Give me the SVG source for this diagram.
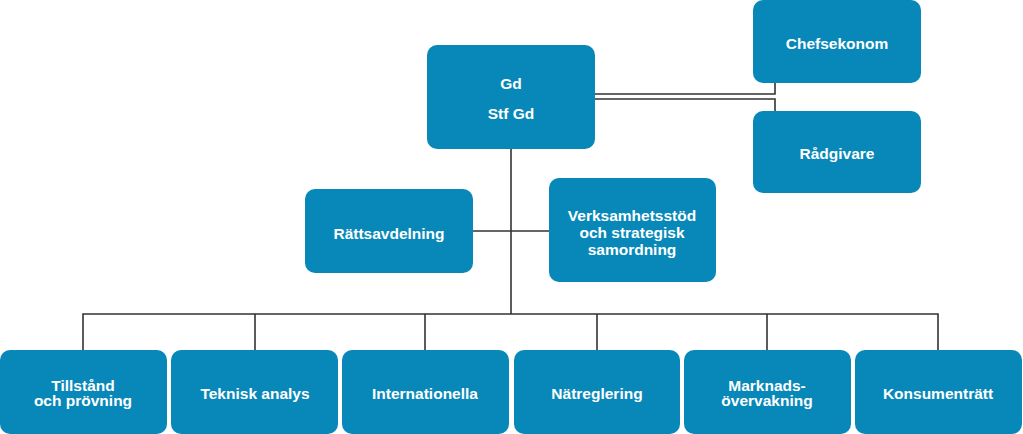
<svg xmlns="http://www.w3.org/2000/svg" width="1023" height="434" viewBox="0 0 1023 434">
<style>
.box{fill:#0888B8}
.t{fill:#fff;font-family:"Liberation Sans",Arial,sans-serif;font-weight:bold;font-size:15.5px;text-anchor:middle}
.c{fill:none;stroke:#333;stroke-width:1.6}
</style>
<rect width="1023" height="434" fill="#fff"/>
<g id="connectors">
<path class="c" d="M595 94H775V83"/>
<path class="c" d="M595 99H775V111"/>
<path class="c" d="M511 149V314"/>
<path class="c" d="M473 231H549"/>
<path class="c" d="M83 350V314H938V350"/>
<path class="c" d="M255 314V350M425 314V350M597 314V350M767 314V350"/>
</g>
<g id="gd"><rect class="box" x="427" y="45" width="168" height="104" rx="10"/><text class="t" x="511" y="88.5">Gd</text><text class="t" x="511" y="118.5">Stf Gd</text></g>
<g id="chefsekonom"><rect class="box" x="753" y="0" width="168" height="83" rx="10"/><text class="t" x="837" y="48.5">Chefsekonom</text></g>
<g id="radgivare"><rect class="box" x="753" y="111" width="168" height="82" rx="10"/><text class="t" x="837" y="158.5">Rådgivare</text></g>
<g id="rattsavdelning"><rect class="box" x="305" y="189" width="168" height="84" rx="10"/><text class="t" x="389" y="238.5">Rättsavdelning</text></g>
<g id="verksamhetsstod"><rect class="box" x="549" y="178" width="167" height="104" rx="10"/><text class="t" x="632" y="220.5">Verksamhetsstöd</text><text class="t" x="632" y="237.5">och strategisk</text><text class="t" x="632" y="254.5">samordning</text></g>
<g id="tillstand"><rect class="box" x="0" y="350" width="167" height="84" rx="10"/><text class="t" x="83" y="390.5">Tillstånd</text><text class="t" x="83" y="405.5">och prövning</text></g>
<g id="teknisk"><rect class="box" x="171" y="350" width="167" height="84" rx="10"/><text class="t" x="255" y="398.5">Teknisk analys</text></g>
<g id="internationella"><rect class="box" x="342" y="350" width="167" height="84" rx="10"/><text class="t" x="425" y="398.5">Internationella</text></g>
<g id="natreglering"><rect class="box" x="514" y="350" width="166" height="84" rx="10"/><text class="t" x="597" y="398.5">Nätreglering</text></g>
<g id="marknad"><rect class="box" x="684" y="350" width="167" height="84" rx="10"/><text class="t" x="767" y="390.5">Marknads-</text><text class="t" x="767" y="405.5">övervakning</text></g>
<g id="konsument"><rect class="box" x="855" y="350" width="167" height="84" rx="10"/><text class="t" x="938" y="398.5">Konsumenträtt</text></g>
</svg>
